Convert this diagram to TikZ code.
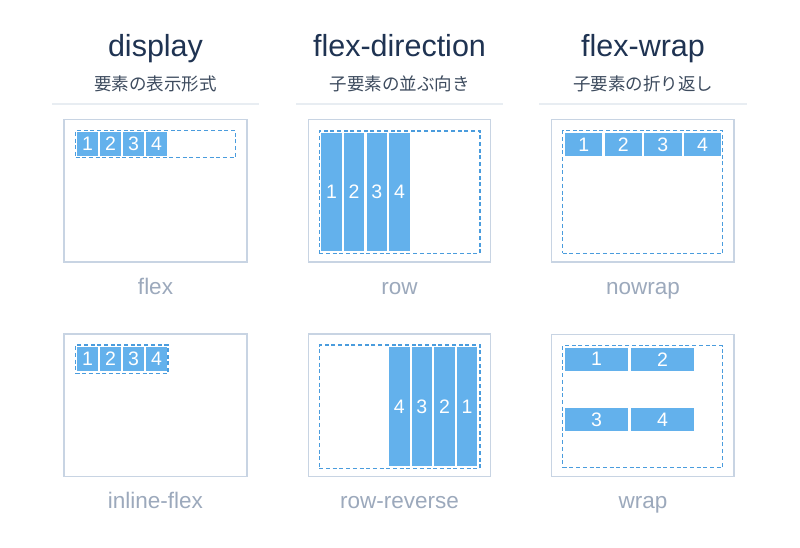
\documentclass[tikz,border=0pt]{standalone}
\usepackage{fontspec}
\setmainfont{Liberation Sans}
\newfontfamily\cjk{Noto Sans CJK JP}
\definecolor{itemblue}{HTML}{63B1EC}
\definecolor{dashblue}{HTML}{4A9CDD}
\definecolor{outerc}{HTML}{C8D4E3}
\definecolor{titlec}{HTML}{1F3352}
\definecolor{subc}{HTML}{3D4B5E}
\definecolor{capc}{HTML}{9CA9BC}
\definecolor{sepc}{HTML}{E8EDF2}
\newcommand\rectnode[7]{\node[#1,minimum width={(#5)-(#3)},minimum height={(#6)-(#4)}] (#2) at ({((#3)+(#5))/2},{((#4)+(#6))/2}) {#7};}
\begin{document}
\begin{tikzpicture}[x=1pt,y=-1pt,
  outerbox/.style={draw=outerc,line width=1.5pt,fill=white,inner sep=0pt},
  dashbox/.style={draw=dashblue,line width=1.5pt,dash pattern=on 4pt off 2.7pt,inner sep=0pt},
  item/.style={fill=itemblue,inner sep=0pt,text=white,font=\fontsize{19.5}{19.5}\selectfont},
  titletext/.style={anchor=base,text=titlec,font=\fontsize{30.5}{32}\selectfont},
  subtext/.style={anchor=center,text=subc,font=\cjk\fontsize{17.5}{19}\selectfont},
  captext/.style={anchor=base,text=capc,font=\fontsize{22.5}{24}\selectfont},
  sepline/.style={draw=sepc,line width=1.6pt}]
\useasboundingbox[fill=white] (0,0) rectangle (800,548);
% headers
\node[titletext] (t1) at (155.5,56.5) {display};
\node[titletext] (t2) at (399.5,56.5) {flex-direction};
\node[titletext] (t3) at (643,56.5) {flex-wrap};
\node[subtext] (s1) at (155.5,84) {要素の表示形式};
\node[subtext] (s2) at (399.5,84) {子要素の並ぶ向き};
\node[subtext] (s3) at (643,84) {子要素の折り返し};
\coordinate (l1a) at (52,104); \coordinate (l1b) at (259,104);
\coordinate (l2a) at (296,104); \coordinate (l2b) at (503,104);
\coordinate (l3a) at (539,104); \coordinate (l3b) at (747,104);
\draw[sepline] (l1a) -- (l1b);
\draw[sepline] (l2a) -- (l2b);
\draw[sepline] (l3a) -- (l3b);
% display: flex
\rectnode{outerbox}{o1}{64}{119.5}{247}{262}{}
\rectnode{dashbox}{d1}{75.5}{130.5}{235.5}{157.5}{}
\foreach \i [count=\k from 0] in {1,2,3,4}{
  \rectnode{item}{a\i}{77.3+23*\k}{132.3}{97.8+23*\k}{155.7}{\i}
}
% display: inline-flex
\rectnode{outerbox}{o4}{64}{334}{247}{476.5}{}
\rectnode{dashbox}{d4}{75.5}{345}{168}{373.3}{}
\foreach \i [count=\k from 0] in {1,2,3,4}{
  \rectnode{item}{b\i}{77.3+23*\k}{347.3}{97.8+23*\k}{370.7}{\i}
}
% flex-direction: row
\rectnode{outerbox}{o2}{308.3}{119.5}{490.7}{262}{}
\rectnode{dashbox}{d2}{319.3}{131}{480}{253.3}{}
\foreach \i [count=\k from 0] in {1,2,3,4}{
  \rectnode{item}{c\i}{321.3+22.65*\k}{132.7}{341.7+22.65*\k}{251.3}{\i}
}
% flex-direction: row-reverse
\rectnode{outerbox}{o5}{308.3}{334}{490.7}{476.5}{}
\rectnode{dashbox}{d5}{319.3}{345}{480}{468.3}{}
\foreach \i [count=\k from 0] in {4,3,2,1}{
  \rectnode{item}{e\i}{389.1+22.6*\k}{347.3}{409.5+22.6*\k}{466}{\i}
}
% flex-wrap: nowrap
\rectnode{outerbox}{o3}{551.7}{119.5}{734}{262}{}
\rectnode{dashbox}{d3}{562.7}{130.7}{722.7}{253.3}{}
\foreach \i [count=\k from 0] in {1,2,3,4}{
  \rectnode{item}{f\i}{565+39.6*\k}{132.7}{602.4+39.6*\k}{156}{\i}
}
% flex-wrap: wrap
\rectnode{outerbox}{o6}{551.7}{334.3}{734}{476.5}{}
\rectnode{dashbox}{d6}{562.7}{345.7}{722.7}{467.3}{}
\rectnode{item}{g1}{565}{347.7}{628.3}{370.7}{1}
\rectnode{item}{g2}{631}{347.7}{694.3}{370.7}{2}
\rectnode{item}{g3}{565}{407.7}{628.3}{431}{3}
\rectnode{item}{g4}{631}{407.7}{694.3}{431}{4}
% captions
\node[captext] (c1) at (155.5,294.3) {flex};
\node[captext] (c2) at (399.5,294.3) {row};
\node[captext] (c3) at (643,294.3) {nowrap};
\node[captext] (c4) at (155.5,508.5) {inline-flex};
\node[captext] (c5) at (399.5,508.5) {row-reverse};
\node[captext] (c6) at (643,508.5) {wrap};
\end{tikzpicture}
\end{document}
